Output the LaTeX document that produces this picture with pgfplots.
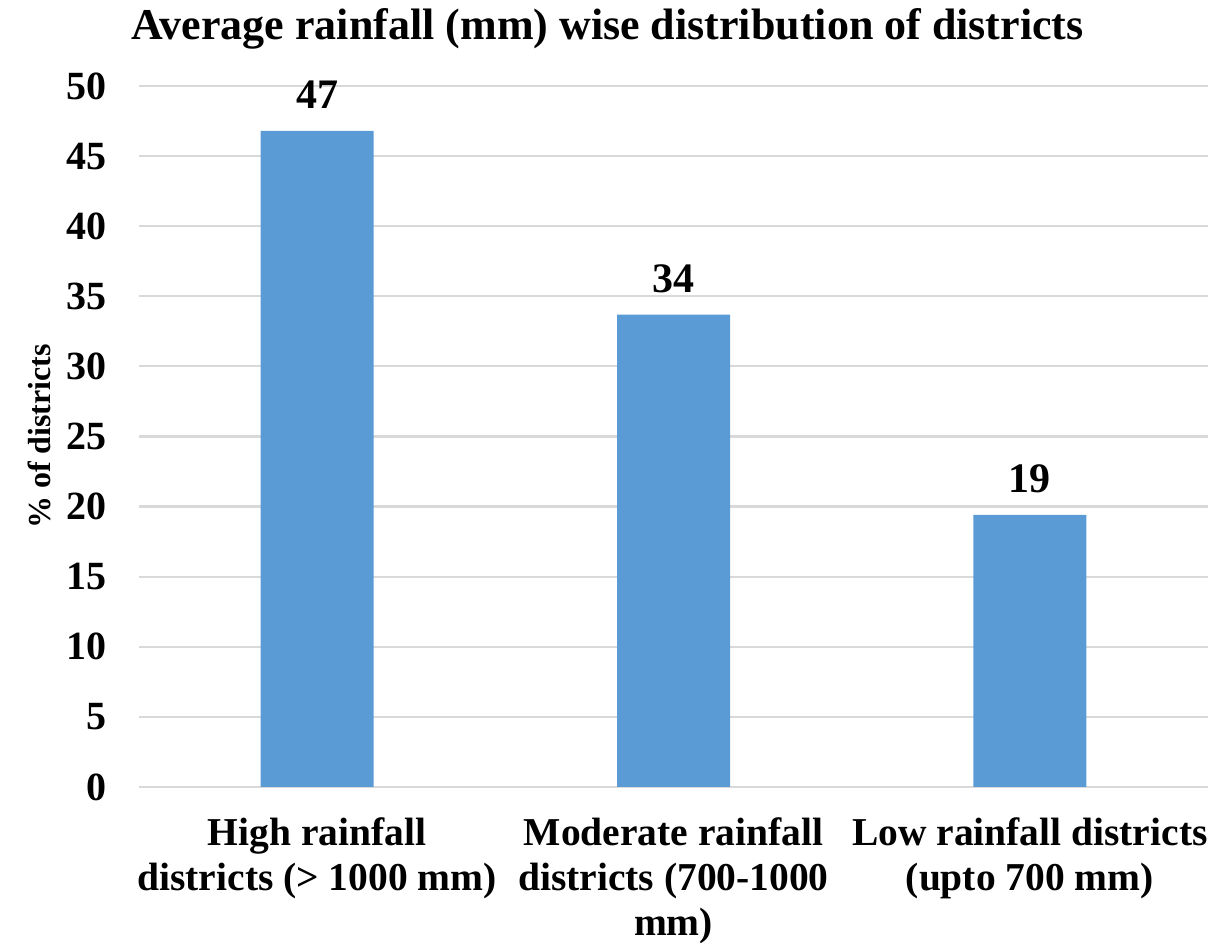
\documentclass[border=0pt]{standalone}
\usepackage{pgfplots}
\pgfplotsset{compat=1.18}
\usepackage{fontspec}
\setmainfont{Liberation Serif}
\definecolor{barblue}{HTML}{5B9BD5}
\definecolor{gridgray}{HTML}{D9D9D9}
\begin{document}
\begin{tikzpicture}
\begin{axis}[
    name=ax,
    scale only axis, width=534.5pt, height=350.5pt,
    ybar, bar width=56.5pt,
    xmin=-0.5, xmax=2.5, ymin=0, ymax=50,
    xtick=data,
    xticklabels={High rainfall\\districts (> 1000 mm),
                 Moderate rainfall\\districts (700-1000\\mm),
                 Low rainfall districts\\(upto 700 mm)},
    ytick={0,5,...,50},
    ymajorgrids, grid style={gridgray, line width=1.1pt},
    axis line style={draw=none},
    major tick length=0pt,
    /pgf/number format/assume math mode=true,
    yticklabel style={font=\bfseries\fontsize{20}{24}\selectfont, xshift=-12.5pt},
    xticklabel style={font=\bfseries\fontsize{19.75}{22.5}\selectfont, align=center, yshift=-12pt},
    ylabel={\% of districts},
    ylabel style={font=\bfseries\fontsize{16}{19}\selectfont,
                  at={(axis description cs:-0.0935,0.5)}, anchor=center},
    title={Average rainfall (mm) wise distribution of districts},
    title style={font=\bfseries\fontsize{22}{26}\selectfont, xshift=-33pt, yshift=9pt},
    nodes near coords,
    point meta=explicit symbolic,
    every node near coord/.append style={font=\bfseries\fontsize{21}{25}\selectfont, yshift=7.5pt},
]
\addplot[fill=barblue, draw=none] coordinates {(0,46.8)[47] (1,33.7)[34] (2,19.4)[19]};
\end{axis}
\pgfresetboundingbox
\path (ax.south west) ++(-69.5pt,-78pt) (ax.north east) ++(9.5pt,43pt);
\end{tikzpicture}
\end{document}
